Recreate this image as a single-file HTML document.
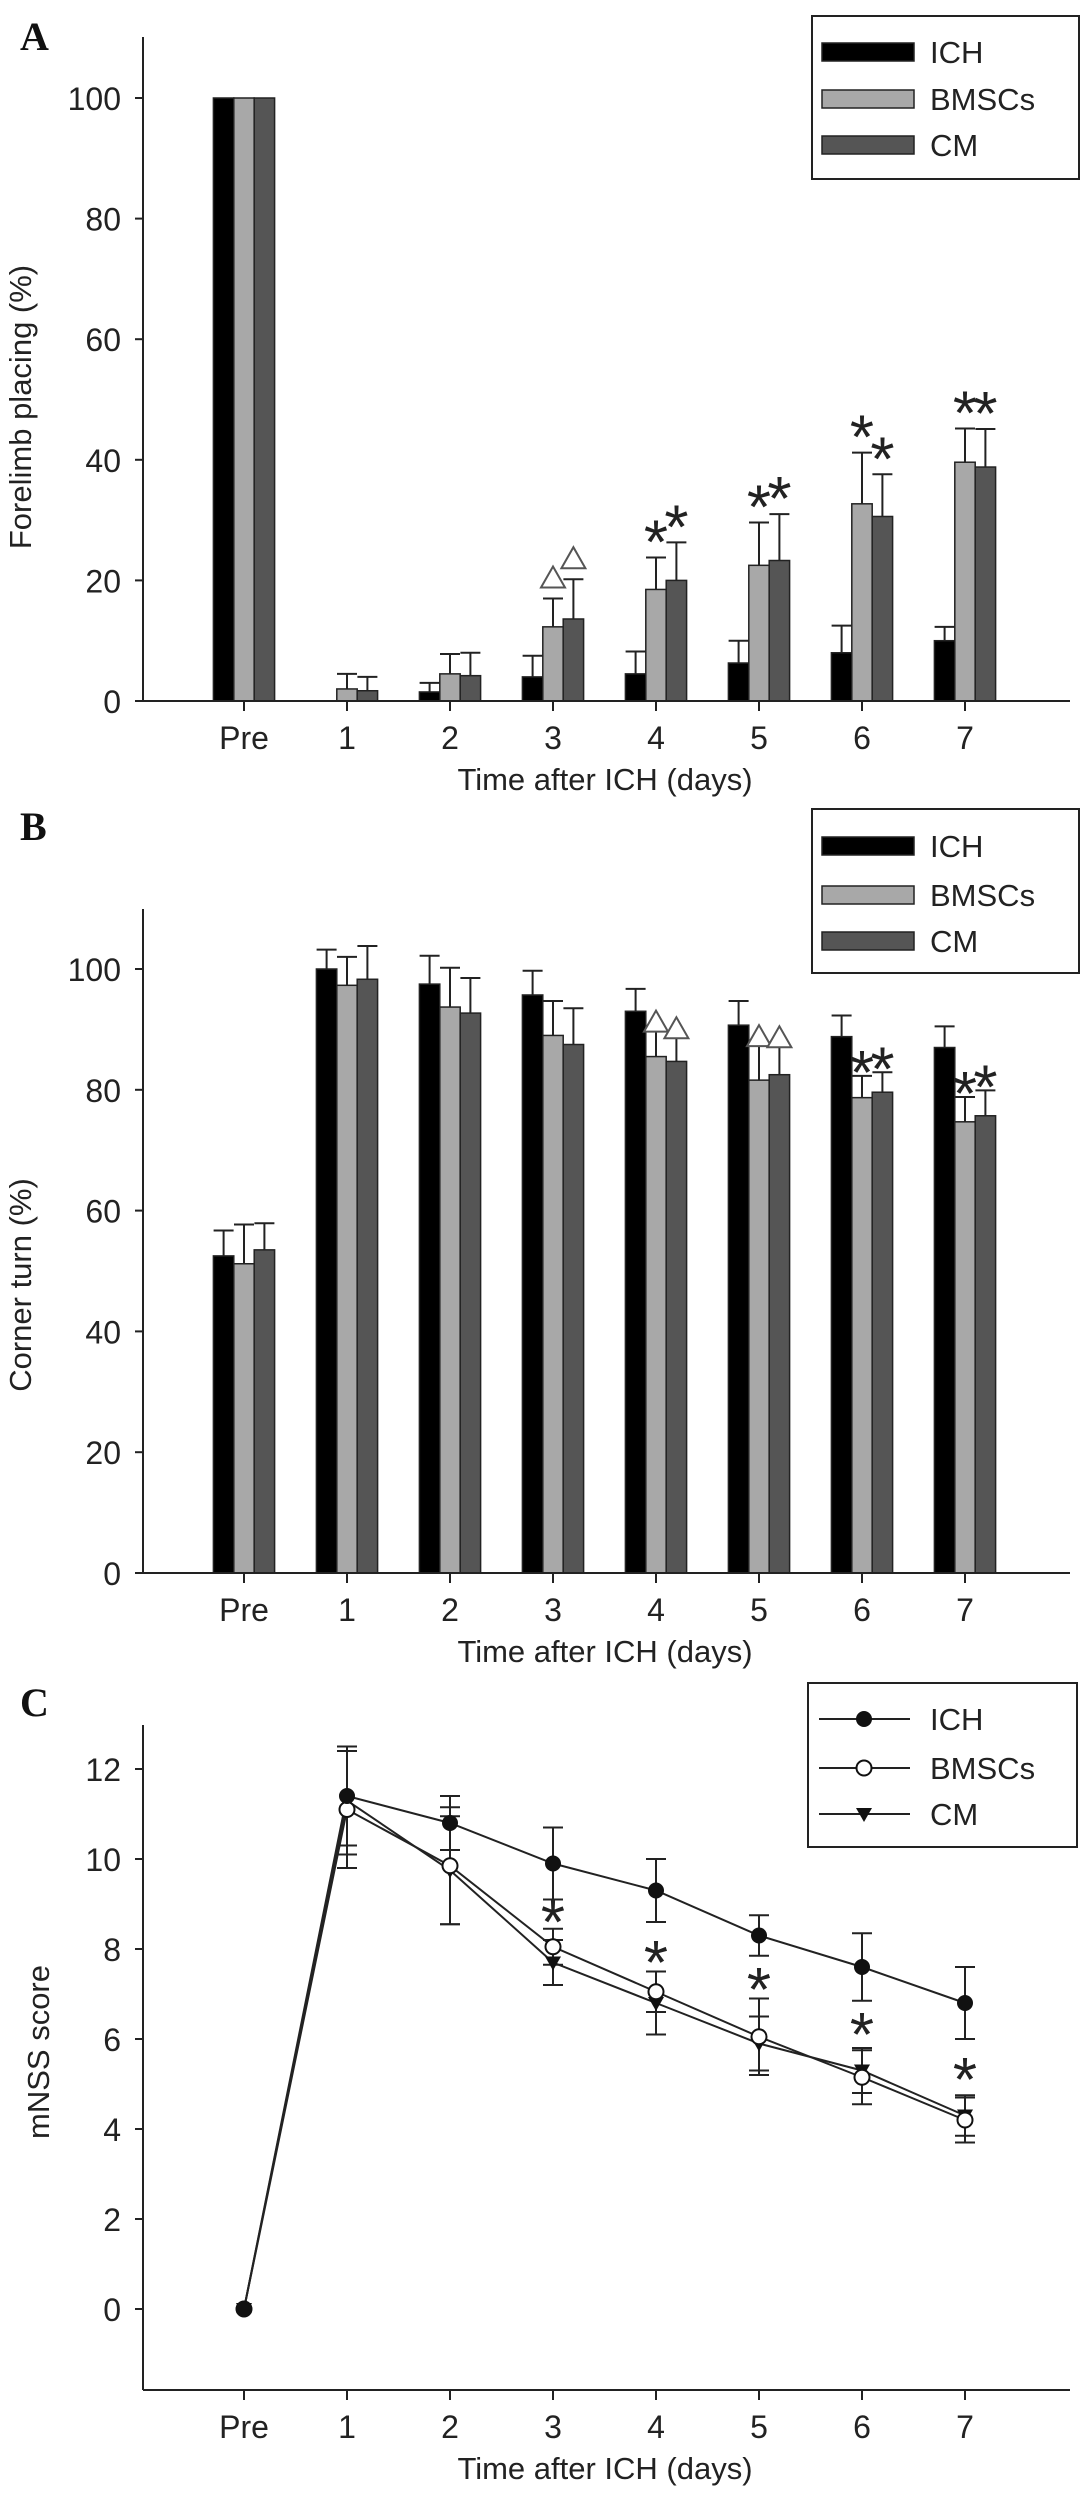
<!DOCTYPE html>
<html><head><meta charset="utf-8"><title>Behavioral tests</title>
<style>
html,body{margin:0;padding:0;background:#fff;}
svg{display:block;font-family:"Liberation Sans",Arial,sans-serif;}
</style></head>
<body>
<svg id="fig" width="1087" height="2503" viewBox="0 0 1087 2503" xmlns="http://www.w3.org/2000/svg"></svg>
<script>
const categories = ["Pre","1","2","3","4","5","6","7"];
const seriesNames = ["ICH","BMSCs","CM"];
// Panel A: forelimb placing
const aICH = [100,0,1.5,4,4.5,6.3,8,10];
const aBMSC = [100,2,4.5,12.3,18.5,22.5,32.7,39.6];
const aCM = [100,1.7,4.2,13.6,20,23.3,30.6,38.8];
const aICHerr = [100,0,3,7.5,8.2,10,12.5,12.3];
const aBMSCerr = [100,4.5,7.8,17,23.8,29.6,41.2,45.2];
const aCMerr = [100,4,8,20.2,26.3,31,37.6,45.1];
const aTicks = [0,20,40,60,80,100];
const aMarksBMSC = ["","","","tri","star","star","star","star"];
const aMarksCM = ["","","","tri","star","star","star","star"];
// Panel B: corner turn
const bICH = [52.5,100,97.5,95.7,93,90.7,88.8,87];
const bBMSC = [51.2,97.3,93.7,89,85.5,81.6,78.7,74.7];
const bCM = [53.5,98.3,92.7,87.5,84.7,82.5,79.6,75.7];
const bICHerr = [56.7,103.2,102.2,99.7,96.7,94.7,92.3,90.5];
const bBMSCerr = [57.7,102,100.2,94.7,89.8,87.4,82.3,78.8];
const bCMerr = [57.9,103.8,98.5,93.5,88.7,87.2,82.9,79.9];
const bTicks = [0,20,40,60,80,100];
const bMarksBMSC = ["","","","","tri","tri","star","star"];
const bMarksCM = ["","","","","tri","tri","star","star"];
// Panel C: mNSS
const cICH = [0,11.4,10.8,9.9,9.3,8.3,7.6,6.8];
const cBMSC = [0,11.1,9.85,8.05,7.05,6.05,5.15,4.2];
const cCM = [0,11.3,9.75,7.7,6.8,5.9,5.3,4.3];
const cICHerr = [0,1.1,0.6,0.8,0.7,0.45,0.75,0.8];
const cBMSCerr = [0,1.3,1.3,0.4,0.45,0.85,0.6,0.5];
const cCMerr = [0,1.2,1.2,0.5,0.7,0.6,0.5,0.45];
const cTicks = [0,2,4,6,8,10,12];
const cStars = [null,null,null,8.7,7.8,7.2,6.2,5.2];

const svg = document.getElementById('fig');
const NS = 'http://www.w3.org/2000/svg';
function el(tag, attrs, parent, text){
  const e = document.createElementNS(NS, tag);
  for (const k in attrs) e.setAttribute(k, attrs[k]);
  if (text !== undefined) e.textContent = text;
  (parent || svg).appendChild(e);
  return e;
}
const fills = ["#000000","#a8a8a8","#555555"];
const xLeft = 143, xRight = 1070, cx0 = 244, step = 103.0;
function xPos(i){ return cx0 + i*step; }

function star(g, x, y){
  const t = el('text',{x:x,y:y+26,'text-anchor':'middle','font-size':62,fill:'#222'},g,'*');
  
  
}
function tri(g, x, y){
  const p = el('path',{d:`M${x-12},${y+9} L${x+12},${y+9} L${x},${y-12} Z`,fill:'#fff',stroke:'#555','stroke-width':2},g);
  
  
}

function axes(g, top, y0pix, yfn, ticks, ylabel, ylabelX, ylabelY, bottom){
  el('line',{x1:xLeft,y1:top,x2:xLeft,y2:bottom,stroke:'#222','stroke-width':2},g);
  el('line',{x1:xLeft,y1:bottom,x2:xRight,y2:bottom,stroke:'#222','stroke-width':2},g);
  ticks.forEach(v=>{
    const y = yfn(v);
    el('line',{x1:xLeft-8,y1:y,x2:xLeft,y2:y,stroke:'#222','stroke-width':2},g);
    const t = el('text',{x:121,y:y+12,'text-anchor':'end','font-size':32,fill:'#222'},g,String(v));
    
    
  });
  categories.forEach((c,i)=>{
    const x = xPos(i);
    el('line',{x1:x,y1:bottom,x2:x,y2:bottom+10,stroke:'#222','stroke-width':2},g);
    const t = el('text',{x:x,y:bottom+48,'text-anchor':'middle','font-size':32,fill:'#222'},g,c);
    
    
  });
  const xt = el('text',{x:605,y:bottom+89,'text-anchor':'middle','font-size':31,fill:'#222'},g,'Time after ICH (days)');
  
  
  const yt = el('text',{x:ylabelX,y:ylabelY,'text-anchor':'middle','font-size':31,fill:'#222',transform:`rotate(-90 ${ylabelX} ${ylabelY})`},g,ylabel);
  
  
}

function barPanel(name, letter, letterY, top, bottom, yTop100, vals, errs, marksB, marksC, ticks, ylabel, ylabelY, legend, markOff){
  const g = el('g',{});
  
  
  const yfn = v => bottom - v*(bottom - yTop100)/100;
  const lt = el('text',{x:20,y:letterY,'font-family':'Liberation Serif,serif','font-weight':'bold','font-size':40,fill:'#111'},g,letter);
  
  
  const bw = 20.4;
  for (let s=0;s<3;s++){
    for (let i=0;i<categories.length;i++){
      const v = vals[s][i];
      const x = xPos(i) + (s-1)*bw - bw/2;
      if (v > 0){
        const r = el('rect',{x:x,y:yfn(v),width:bw,height:bottom-yfn(v),fill:fills[s],stroke:'#222','stroke-width':1.5},g);
        
        
      }
      const e = errs[s][i];
      if (e > v){
        const xc = x + bw/2;
        el('line',{x1:xc,y1:yfn(v),x2:xc,y2:yfn(e),stroke:'#222','stroke-width':2},g);
        el('line',{x1:xc-10,y1:yfn(e),x2:xc+10,y2:yfn(e),stroke:'#222','stroke-width':2},g);
      }
    }
  }
  for (let i=0;i<categories.length;i++){
    [[marksB,1],[marksC,2]].forEach(([m,s])=>{
      const k = m[i]; if(!k) return;
      const xc = xPos(i) + (s-1)*bw;
      const y = yfn(errs[s][i]) - markOff;
      if (k==='star') star(g, xc, y); else tri(g, xc, y);
    });
  }
  axes(g, top, bottom, yfn, ticks, ylabel, 31, ylabelY, bottom);
  const lg = el('g',{},g);
  
  
  el('rect',{x:812,y:legend.top,width:267,height:legend.bottom-legend.top,fill:'#fff',stroke:'#222','stroke-width':2},lg);
  seriesNames.forEach((n,s)=>{
    const ry = legend.rows[s];
    const sw = el('rect',{x:822,y:ry-9,width:92,height:18,fill:fills[s],stroke:'#222','stroke-width':1.5},lg);
    
    
    const t = el('text',{x:930,y:ry+11,'font-size':31,fill:'#222'},lg,n);
    
    
  });
}

barPanel('panel-a-forelimb-chart','A',50,37,701,98,[aICH,aBMSC,aCM],[aICHerr,aBMSCerr,aCMerr],aMarksBMSC,aMarksCM,aTicks,'Forelimb placing (%)',407,{top:16,bottom:179,rows:[52,99,145]},20);
barPanel('panel-b-corner-chart','B',840,909,1573,969,[bICH,bBMSC,bCM],[bICHerr,bBMSCerr,bCMerr],bMarksBMSC,bMarksCM,bTicks,'Corner turn (%)',1285,{top:809,bottom:973,rows:[846,895,941]},8);

(function(){
  const g = el('g',{});
  
  
  const top = 1725, bottom = 2390, y0 = 2309, per = 45;
  const yfn = v => y0 - v*per;
  const lt = el('text',{x:20,y:1716,'font-family':'Liberation Serif,serif','font-weight':'bold','font-size':40,fill:'#111'},g,'C');
  
  
  axes(g, top, bottom, yfn, cTicks, 'mNSS score', 49, 2052, bottom);
  const vals=[cICH,cBMSC,cCM], errs=[cICHerr,cBMSCerr,cCMerr];
  for (let s=0;s<3;s++){
    const pts = vals[s].map((v,i)=>xPos(i)+','+yfn(v)).join(' ');
    const l = el('polyline',{points:pts,fill:'none',stroke:'#222','stroke-width':2},g);
    
    
    vals[s].forEach((v,i)=>{
      const e = errs[s][i], x = xPos(i);
      if (e>0){
        el('line',{x1:x,y1:yfn(v-e),x2:x,y2:yfn(v+e),stroke:'#222','stroke-width':2},g);
        el('line',{x1:x-10,y1:yfn(v-e),x2:x+10,y2:yfn(v-e),stroke:'#222','stroke-width':2},g);
        el('line',{x1:x-10,y1:yfn(v+e),x2:x+10,y2:yfn(v+e),stroke:'#222','stroke-width':2},g);
      }
    });
  }
  function marker(s,x,y,parent){
    let m;
    if (s===0) m = el('circle',{cx:x,cy:y,r:8,fill:'#111'},parent);
    else if (s===1) m = el('circle',{cx:x,cy:y,r:7.5,fill:'#fff',stroke:'#111','stroke-width':2},parent);
    else m = el('path',{d:`M${x-8},${y-6} L${x+8},${y-6} L${x},${y+8} Z`,fill:'#111'},parent);
    
    
  }
  [2,1,0].forEach(s=>vals[s].forEach((v,i)=>marker(s,xPos(i),yfn(v),g)));
  cStars.forEach((v,i)=>{ if(v!==null) star(g,xPos(i),yfn(v)); });
  const lg = el('g',{},g);
  
  
  el('rect',{x:808,y:1683,width:269,height:164,fill:'#fff',stroke:'#222','stroke-width':2},lg);
  const rows=[1719,1768,1814];
  seriesNames.forEach((n,s)=>{
    el('line',{x1:819,y1:rows[s],x2:910,y2:rows[s],stroke:'#222','stroke-width':2},lg);
    marker(s,864,rows[s],lg);
    const t = el('text',{x:930,y:rows[s]+11,'font-size':31,fill:'#222'},lg,n);
    
    
  });
})();
</script>
</body></html>
